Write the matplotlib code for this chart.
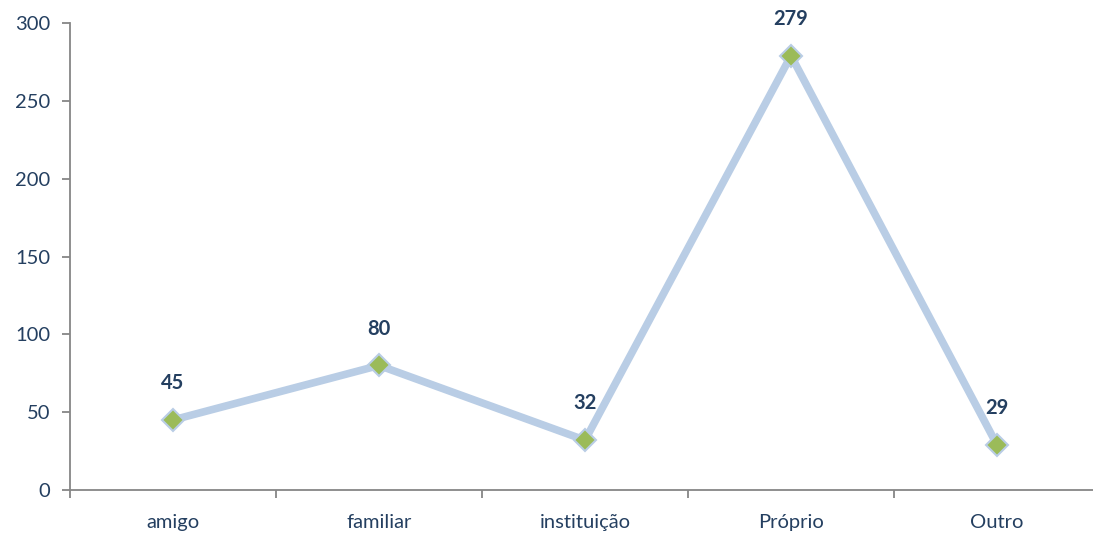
import matplotlib.pyplot as plt
from matplotlib.ticker import FixedLocator

categories = ["amigo", "familiar", "instituição", "Próprio", "Outro"]
values = [45, 80, 32, 279, 29]

text_color = "#243F60"
axis_color = "#868686"

plt.rcParams["font.family"] = ["Lato", "DejaVu Sans"]

fig = plt.figure(figsize=(10.93, 5.35), dpi=100)
ax = fig.add_axes([70 / 1093, 45 / 535, 1023 / 1093, 467 / 535])

x = list(range(len(categories)))
ax.plot(x, values, color="#B9CDE5", linewidth=5.5, solid_joinstyle="miter",
        marker="D", markersize=11, markerfacecolor="#9BBB59",
        markeredgecolor="#B9CDE5", markeredgewidth=1.5, zorder=3)

for xi, v in zip(x, values):
    ax.annotate(str(v), (xi, v), xytext=(0, 26.5), textcoords="offset points",
                ha="center", va="center", fontsize=14.5, fontweight="bold",
                color=text_color)

ax.set_xlim(-0.5, -0.5 + 1023 / 206)
ax.set_ylim(0, 300)
ax.set_yticks(range(0, 301, 50))
ax.set_xticks(x)
ax.set_xticklabels(categories)
ax.xaxis.set_minor_locator(FixedLocator([i + 0.5 for i in range(-1, len(categories))]))

for s in ["top", "right"]:
    ax.spines[s].set_visible(False)
for s in ["left", "bottom"]:
    ax.spines[s].set_color(axis_color)
    ax.spines[s].set_linewidth(1.3)

ax.tick_params(axis="y", length=6, width=1.3, color=axis_color, labelsize=14.5,
               labelcolor=text_color, pad=8)
ax.tick_params(axis="x", which="major", length=0, labelsize=14.5,
               labelcolor=text_color, pad=17)
ax.tick_params(axis="x", which="minor", length=6, width=1.3, color=axis_color)

fig.savefig("out.png", dpi=100)
